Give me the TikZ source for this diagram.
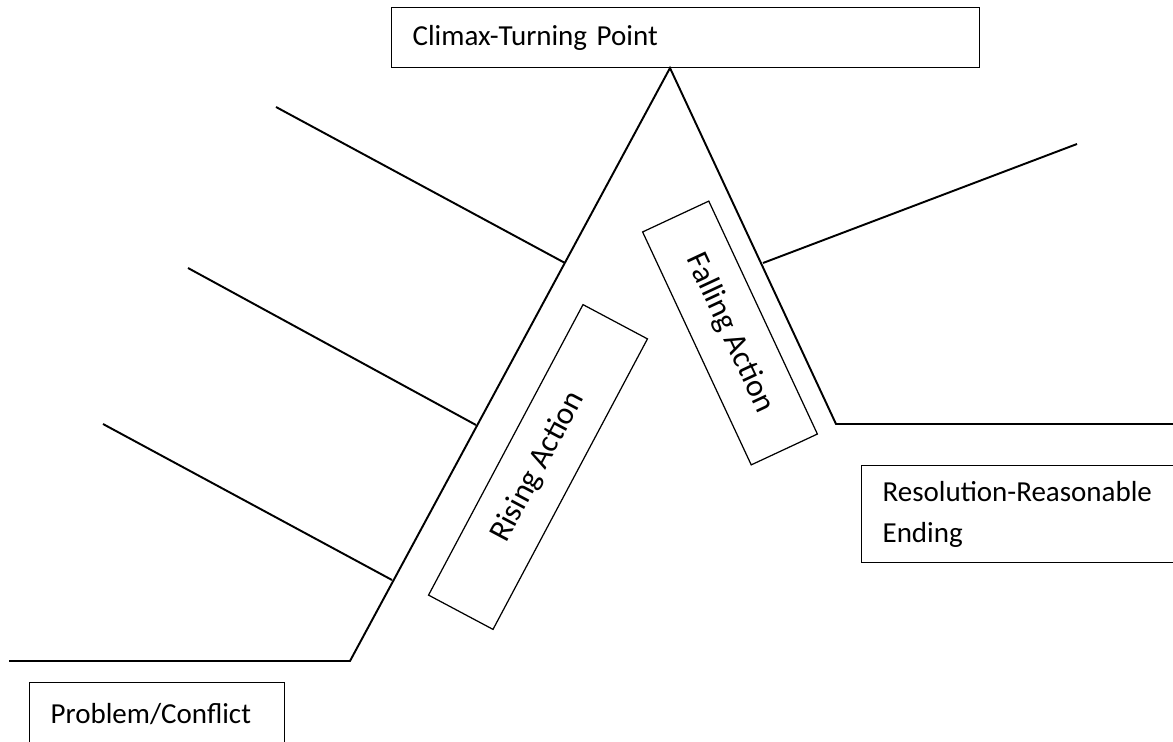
\documentclass[tikz,border=0pt]{standalone}
\usepackage{fontspec}
\setmainfont{Carlito}
\usepackage{tikz}

\begin{document}
\begin{tikzpicture}[x=0.2mm, y=-0.2mm,
    plot line/.style={line width=1.1pt},
    text box/.style={draw, line width=0.7pt, inner xsep=4.2mm, inner ysep=0pt, align=left, anchor=north west, font=\fontsize{16.5}{23.3}\selectfont},
    tilt box/.style={draw, line width=0.7pt, inner sep=0pt, minimum height=14.6mm, font=\fontsize{18}{21}\selectfont}]
        \clip (0,0) rectangle (1173,742);

        \coordinate (start) at (9,661);
        \coordinate (foot) at (350,661);
        \coordinate (apex) at (670,68);
        \coordinate (knee) at (836,424);
        \coordinate (end) at (1185,424);

        \coordinate (r1) at (565,263);
        \coordinate (r2) at (476,425);
        \coordinate (r3) at (392,580);
        \coordinate (f1) at (763,263);
        \coordinate (e1) at (276,107);
        \coordinate (e2) at (188,268);
        \coordinate (e3) at (103,424);
        \coordinate (e4) at (1077,144);

        \node[text box, text width=109.2mm, minimum height=12mm] (climax) at (391,7) {Climax-Turning Point};
        \node[text box, text width=42.6mm, minimum height=12.4mm] (problem) at (29,682) {Problem/Conflict};
        \node[text box, text width=56.4mm, minimum height=19.4mm] (resolution) at (861,465) {Resolution-Reasonable\\Ending};
        \node[tilt box, rotate=62, minimum width=65.8mm] (rising) at (538,467) {Rising Action};
        \node[tilt box, rotate=-65, minimum width=51.4mm] (falling) at (730,333) {Falling Action};

        \draw[plot line] (start) -- (foot) -- (apex) -- (knee) -- (end);
        \draw[plot line] (e1) -- (r1);
        \draw[plot line] (e2) -- (r2);
        \draw[plot line] (e3) -- (r3);
        \draw[plot line] (f1) -- (e4);

    \end{tikzpicture}
\end{document}
